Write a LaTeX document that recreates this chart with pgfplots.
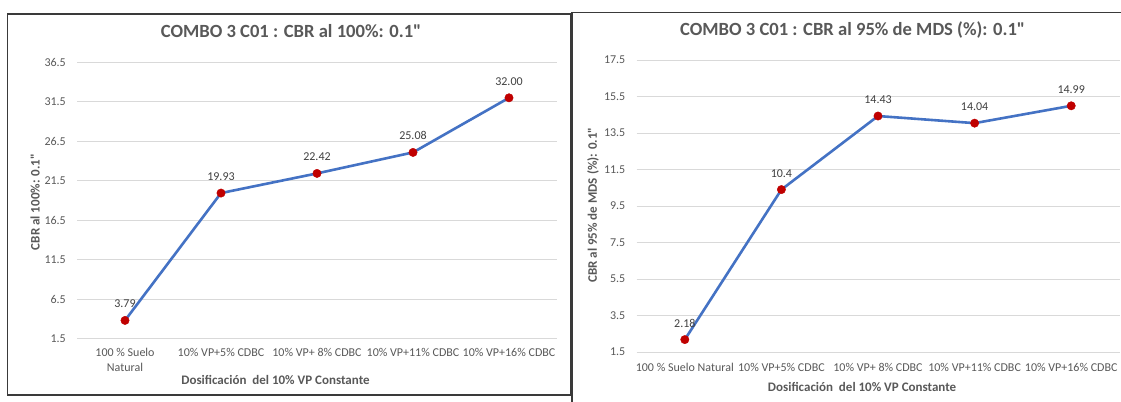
\documentclass[border=0pt]{standalone}
\usepackage{pgfplots}
\pgfplotsset{compat=1.18}
\usepackage{pgfplotstable}
\usepackage{fontspec}
\setmainfont{Carlito}[Ligatures=TeXOff]
\definecolor{lineblue}{HTML}{4472C4}
\definecolor{mkred}{HTML}{C00000}
\definecolor{txtgray}{HTML}{595959}
\definecolor{lblgray}{HTML}{404040}
\definecolor{gridgray}{HTML}{D9D9D9}
\definecolor{boxgray}{HTML}{3A3A3A}
\newcommand{\dq}{\symbol{34}}

\pgfplotstableread{
x y lab
0 3.79 3.79
1 19.93 19.93
2 22.42 22.42
3 25.08 25.08
4 32.00 32.00
}\leftdata
\pgfplotstableread{
x y lab
0 2.18 2.18
1 10.4 10.4
2 14.43 14.43
3 14.04 14.04
4 14.99 14.99
}\rightdata

\pgfplotsset{
  excel/.style={
    scale only axis,
    anchor=south west,
    xmin=-0.5, xmax=4.5,
    xtick={0,1,2,3,4},
    axis line style={draw=none},
    major tick length=0pt,
    ymajorgrids,
    major grid style={draw=gridgray, line width=0.8bp},
    clip=false,
    tick label style={font=\fontsize{12bp}{14.5bp}\selectfont, text=txtgray, inner sep=0pt},
    /pgf/number format/assume math mode=true,
    y tick label style={/pgf/number format/fixed, /pgf/number format/fixed zerofill, /pgf/number format/precision=1, anchor=east, xshift=-11bp},
    x tick label style={anchor=north, align=center},
    title style={font=\fontsize{18.6bp}{22bp}\selectfont\bfseries, text=txtgray, anchor=center},
    label style={font=\fontsize{13bp}{15bp}\selectfont\bfseries, text=txtgray},
    nodes near coords,
    point meta=explicit symbolic,
    every node near coord/.append style={font=\fontsize{12bp}{14bp}\selectfont, text=lblgray, anchor=base, inner sep=0pt, yshift=12.5bp},
  },
  excelline/.style={draw=lineblue, line width=2.6bp, line join=round, mark=*, mark size=4.2bp, mark options={solid, draw=mkred, fill=mkred, line width=0.4bp}},
}

\begin{document}
\begin{tikzpicture}[x=1bp,y=1bp]
\useasboundingbox (0,0) rectangle (1121,401);
\fill[white] (0,0) rectangle (1121,401);
\clip (0,0) rectangle (1121,401);
\draw[boxgray, line width=1.4bp] (7.5,6) rectangle (570.5,387);
\draw[boxgray, line width=1.4bp] (572,-20) rectangle (1150,388.3);

\begin{axis}[excel,
  at={(77bp,62.5bp)},
  width=480bp, height=276.2bp,
  ymin=1.5, ymax=36.5,
  ytick={1.5,6.5,11.5,16.5,21.5,26.5,31.5,36.5},
  xticklabels={{100 \% Suelo\\Natural},{10\% VP+5\% CDBC},{10\% VP+ 8\% CDBC},{10\% VP+11\% CDBC},{10\% VP+16\% CDBC}},
  x tick label style={yshift=-9.5bp},
  title={COMBO 3 C01 : CBR al 100\%: 0.1\dq},
  title style={at={(axis description cs:0.446,1.0916)}},
  xlabel={Dosificación\ \ del 10\% VP Constante},
  xlabel style={at={(axis description cs:0.4135,0)}, anchor=center, yshift=-41.5bp},
  ylabel={CBR al 100\%: 0.1\dq},
  ylabel style={at={(axis description cs:-0.0875,0.494)}, anchor=center},
]
\addplot[excelline] table[x=x, y=y, meta=lab] {\leftdata};
\end{axis}

\begin{axis}[excel,
  at={(636.5bp,49bp)},
  width=483bp, height=292bp,
  ymin=1.5, ymax=17.5,
  ytick={1.5,3.5,5.5,7.5,9.5,11.5,13.5,15.5,17.5},
  xticklabels={{100 \% Suelo Natural},{10\% VP+5\% CDBC},{10\% VP+ 8\% CDBC},{10\% VP+11\% CDBC},{10\% VP+16\% CDBC}},
  x tick label style={yshift=-11bp},
  title={COMBO 3 C01 : CBR al 95\% de MDS (\%): 0.1\dq},
  title style={at={(axis description cs:0.4474,1.082)}},
  xlabel={Dosificación\ \ del 10\% VP Constante},
  xlabel style={at={(axis description cs:0.467,0)}, anchor=center, yshift=-35bp},
  ylabel={CBR al 95\% de MDS (\%): 0.1\dq},
  ylabel style={at={(axis description cs:-0.09,0.503)}, anchor=center},
]
\addplot[excelline] table[x=x, y=y, meta=lab] {\rightdata};
\end{axis}
\end{tikzpicture}
\end{document}
